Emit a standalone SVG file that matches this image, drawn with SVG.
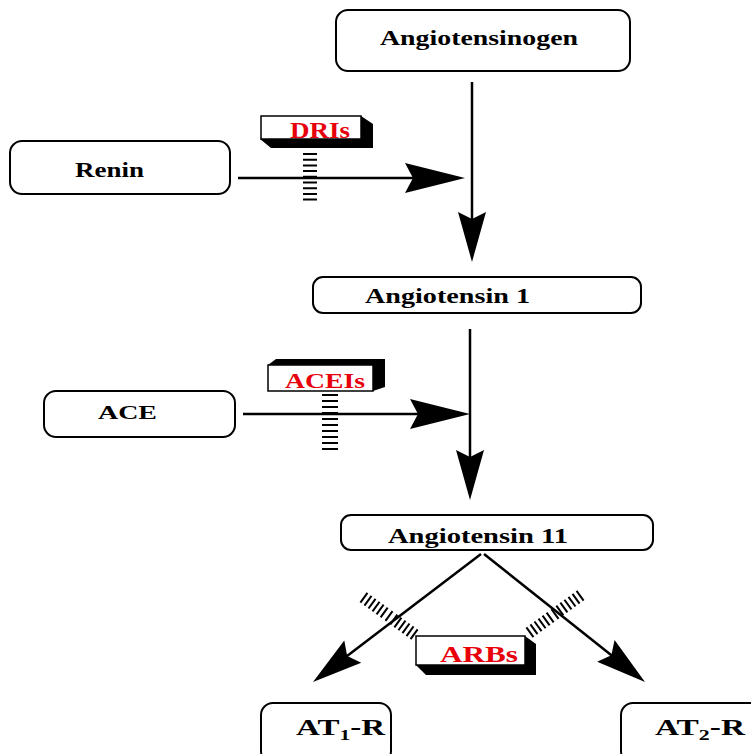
<svg xmlns="http://www.w3.org/2000/svg" width="751" height="754" viewBox="0 0 751 754">
<style>
.box{fill:#fff;stroke:#000;stroke-width:2}
.lbl{font-family:"Liberation Serif","Times New Roman",serif;font-weight:bold;fill:#000}
.drug{font-family:"Liberation Serif","Times New Roman",serif;font-weight:bold;fill:#e8000b}
.ln{stroke:#000;stroke-width:2.5;fill:none}
.hatch{stroke:#000;stroke-width:2;fill:none}
.shadow{fill:#000}
.dbox{fill:#fff;stroke:#000;stroke-width:1.5}
</style>
<defs>
<path id="headL" d="M0,0 L-60,-15 L-52,0 L-60,15 Z" fill="#000"/>
<path id="headM" d="M0,0 L-50,-14 L-43,0 L-50,14 Z" fill="#000"/>
</defs>
<g id="angiotensinogen">
<rect class="box" x="336" y="10" width="294" height="61" rx="12"/>
<text class="lbl" x="380" y="45" font-size="22" textLength="198" lengthAdjust="spacingAndGlyphs">Angiotensinogen</text>
</g>
<g id="renin">
<rect class="box" x="10" y="141" width="220" height="53" rx="12"/>
<text class="lbl" x="75" y="177" font-size="21" textLength="69" lengthAdjust="spacingAndGlyphs">Renin</text>
</g>
<g id="angiotensin1">
<rect class="box" x="313" y="277" width="328" height="36" rx="10"/>
<text class="lbl" x="365" y="303" font-size="21" textLength="165" lengthAdjust="spacingAndGlyphs">Angiotensin 1</text>
</g>
<g id="ace">
<rect class="box" x="44" y="391" width="191" height="46" rx="12"/>
<text class="lbl" x="98" y="419" font-size="19" textLength="59" lengthAdjust="spacingAndGlyphs">ACE</text>
</g>
<g id="angiotensin11">
<rect class="box" x="341" y="515" width="312" height="35" rx="10"/>
<text class="lbl" x="388" y="543" font-size="21" textLength="180" lengthAdjust="spacingAndGlyphs">Angiotensin 11</text>
</g>
<g id="at1r">
<rect class="box" x="261" y="703" width="130" height="60" rx="12"/>
<text class="lbl" x="296" y="735" font-size="23" textLength="89" lengthAdjust="spacingAndGlyphs">AT<tspan font-size="15" dy="5">1</tspan><tspan dy="-5">-R</tspan></text>
</g>
<g id="at2r">
<rect class="box" x="621" y="703" width="150" height="60" rx="12"/>
<text class="lbl" x="655" y="735" font-size="23" textLength="90" lengthAdjust="spacingAndGlyphs">AT<tspan font-size="15" dy="5">2</tspan><tspan dy="-5">-R</tspan></text>
</g>
<g id="dris">
<polygon class="shadow" points="361,116 373,124 373,148 271,148 260,139 361,139"/>
<rect class="dbox" x="261" y="116" width="100" height="23"/>
<text class="drug" x="290" y="138" font-size="23" textLength="60" lengthAdjust="spacingAndGlyphs">DRIs</text>
</g>
<g id="aceis">
<polygon class="shadow" points="268,365 276,359 385,359 385,387 373,391 373,365"/>
<rect class="dbox" x="268" y="365" width="105" height="26"/>
<text class="drug" x="285" y="388" font-size="22" textLength="80" lengthAdjust="spacingAndGlyphs">ACEIs</text>
</g>
<g id="arbs">
<polygon class="shadow" points="525,636 536,644 536,675 426,675 416,665 525,665"/>
<rect class="dbox" x="416" y="636" width="109" height="29"/>
<text class="drug" x="440" y="662" font-size="24" textLength="78" lengthAdjust="spacingAndGlyphs">ARBs</text>
</g>
<g id="connectors">
<line class="ln" x1="472" y1="82" x2="472" y2="250"/>
<use href="#headM" transform="translate(472,262) rotate(90)"/>
<line class="ln" x1="238" y1="178" x2="450" y2="178"/>
<use href="#headL" transform="translate(465,178)"/>
<line class="ln" x1="470" y1="329" x2="470" y2="490"/>
<use href="#headM" transform="translate(470,500) rotate(90)"/>
<line class="ln" x1="243" y1="414" x2="455" y2="414"/>
<use href="#headL" transform="translate(470,414)"/>
<line class="ln" x1="481" y1="554" x2="330" y2="669"/>
<use href="#headM" transform="translate(313,682) rotate(142.7)"/>
<line class="ln" x1="484" y1="554" x2="630" y2="670"/>
<use href="#headM" transform="translate(645,682) rotate(38.5)"/>
</g>
<g id="inhibitors">
<path class="hatch" d="M303,154h14M303,159.7h14M303,165.4h14M303,171.1h14M303,176.8h14M303,182.5h14M303,188.2h14M303,193.9h14M303,199.6h14"/>
<path class="hatch" d="M322,395h16M322,401h16M322,407h16M322,413h16M322,419h16M322,425h16M322,431h16M322,437h16M322,443h16M322,449h16"/>
<g transform="translate(389,616) rotate(36)">
<path class="hatch" d="M-31,-6v12M-26,-6v12M-21,-6v12M-16,-6v12M-11,-6v12M-6,-6v12M0,-6v12M6,-6v12M11,-6v12M16,-6v12M21,-6v12M26,-6v12M31,-6v12"/>
</g>
<g transform="translate(555,614) rotate(-36)">
<path class="hatch" d="M-31,-6v12M-26,-6v12M-21,-6v12M-16,-6v12M-11,-6v12M-6,-6v12M0,-6v12M6,-6v12M11,-6v12M16,-6v12M21,-6v12M26,-6v12M31,-6v12"/>
</g>
</g>
</svg>
